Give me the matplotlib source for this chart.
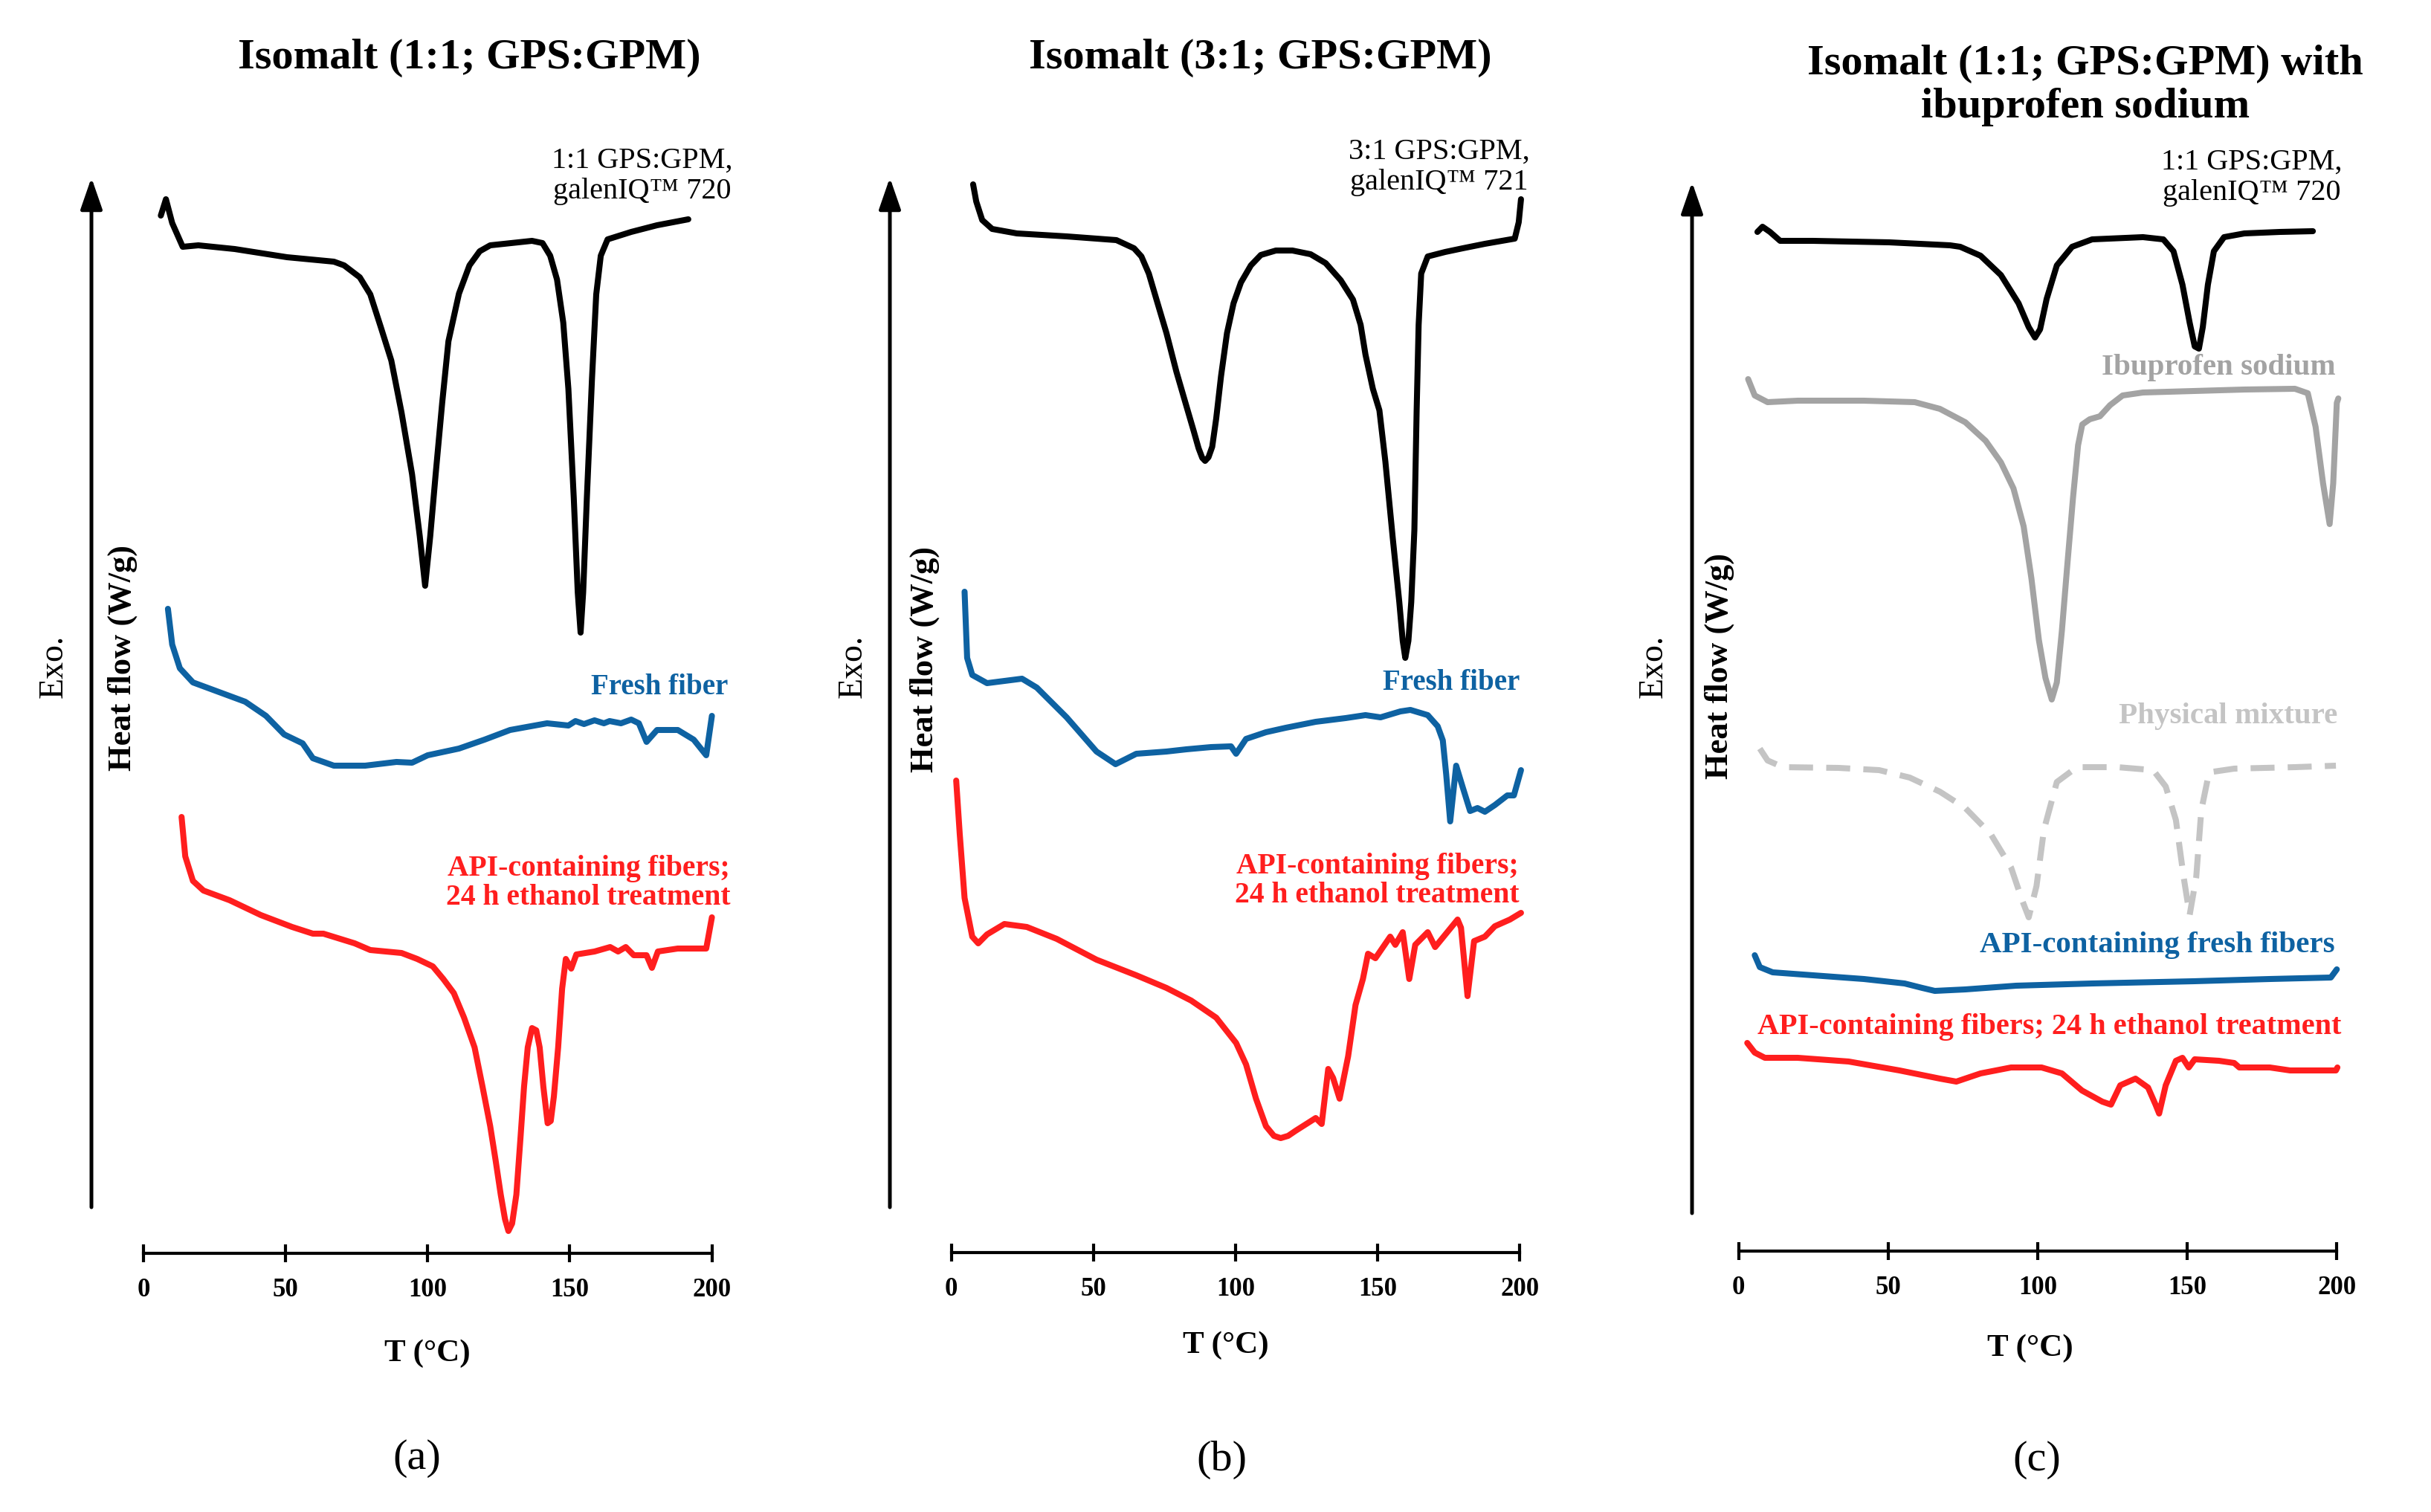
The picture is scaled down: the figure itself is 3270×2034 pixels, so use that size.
import matplotlib
matplotlib.use('Agg')
import matplotlib.pyplot as plt

plt.rcParams['font.family'] = ['Liberation Serif', 'DejaVu Serif']

W, H = 3270, 2034

# ---- data: temperature (°C) and heat flow (a.u., offset per curve) ----
# panel (a): isomalt 1:1
a_gps_t = [6.1, 7.9, 10.1, 13.8, 19.3, 32.1, 50.5, 67, 70.6, 76.1, 79.8, 83.5, 87.2, 90.8, 94.5, 97.2,
           99.1, 100.9, 102.8, 105.1, 107.3, 111, 114.7, 118.3, 122, 136.7, 140.4, 143.1, 145.5,
           147.7, 149.5, 151.4, 152.8, 153.8, 154.7, 156, 157.8, 159.3, 160.9, 163.3, 171.6, 180.7,
           191.7]
a_gps_hf = [13.96, 14.18, 13.86, 13.54, 13.56, 13.51, 13.40, 13.34, 13.29, 13.13, 12.90, 12.46, 12.01,
            11.31, 10.48, 9.65, 8.98, 9.65, 10.48, 11.44, 12.27, 12.91, 13.29, 13.48, 13.56, 13.62,
            13.59, 13.42, 13.10, 12.52, 11.63, 10.16, 8.89, 8.35, 8.89, 10.16, 11.76, 12.90, 13.42,
            13.64, 13.74, 13.83, 13.91]
a_fresh_t = [8.6, 10.1, 12.8, 17.4, 26.6, 35.8, 43.1, 49.5, 56, 59.6, 67, 78, 89, 94.5, 100, 111, 120,
             129, 142, 149.5, 152, 155, 158.7, 162, 164, 168, 171.6, 174.3, 177, 180.7, 188, 193.6,
             198, 200]
a_fresh_hf = [8.67, 8.19, 7.87, 7.68, 7.55, 7.42, 7.23, 6.98, 6.86, 6.66, 6.56, 6.56, 6.61, 6.60, 6.70,
              6.79, 6.91, 7.04, 7.13, 7.10, 7.16, 7.12, 7.17, 7.13, 7.16, 7.13, 7.18, 7.13, 6.88, 7.04,
              7.04, 6.91, 6.70, 7.23]
a_api_t = [13.4, 14.7, 17.4, 21.1, 30.3, 41.3, 52.3, 59.6, 63.3, 74.3, 79.8, 90.8, 96.3, 101.8, 105.5,
           109.2, 112.8, 116.5, 119.3, 122, 123.9, 125.7, 127.2, 128.4, 129.7, 131.2, 132.7, 133.9,
           135.2, 136.7, 138.2, 139.4, 140.7, 142.2, 143.3, 144.4, 145.9, 147.3, 148.6, 150.5, 152.3,
           158.7, 164.2, 167, 169.7, 172.5, 177, 178.9, 181, 188, 198, 200]
a_api_hf = [5.87, 5.34, 5.01, 4.88, 4.75, 4.55, 4.39, 4.30, 4.30, 4.17, 4.08, 4.04, 3.96, 3.86, 3.69,
            3.50, 3.17, 2.77, 2.24, 1.71, 1.25, 0.79, 0.46, 0.30, 0.40, 0.79, 1.58, 2.24, 2.77, 3.03,
            3.00, 2.77, 2.24, 1.75, 1.78, 2.11, 2.77, 3.56, 3.96, 3.83, 4.02, 4.06, 4.12, 4.06, 4.12,
            4.01, 4.01, 3.84, 4.06, 4.10, 4.10, 4.52]

# panel (b): isomalt 3:1
b_gps_t = [7.7, 8.8, 10.9, 14.4, 23.1, 40.6, 58.1, 64.3, 66.9, 69.5, 72.2, 75.7, 79.2, 82.7, 85.3, 87,
           88.3, 89.3, 90.5, 91.8, 93.2, 94.9, 97, 99.3, 101.9, 105.4, 108.9, 114.2, 120, 126.4, 131.7,
           137, 141.3, 144, 145.7, 148.3, 150.6, 152.7, 155.3, 157.6, 158.8, 159.7, 160.8, 161.8,
           162.9, 163.7, 164.4, 165.3, 167.6, 173.7, 179.9, 187.7, 198.2, 199.6, 200.4]
b_gps_hf = [14.37, 14.14, 13.89, 13.77, 13.71, 13.67, 13.62, 13.51, 13.40, 13.17, 12.82, 12.37, 11.85,
            11.39, 11.05, 10.82, 10.69, 10.65, 10.70, 10.84, 11.22, 11.79, 12.37, 12.77, 13.05, 13.28,
            13.42, 13.48, 13.48, 13.43, 13.31, 13.08, 12.82, 12.48, 12.08, 11.62, 11.33, 10.64, 9.61,
            8.75, 8.23, 8.00, 8.23, 8.75, 9.72, 11.33, 12.48, 13.17, 13.40, 13.46, 13.51, 13.57, 13.64,
            13.86, 14.17]
b_fresh_t = [4.7, 5.6, 7.4, 12.6, 24.9, 30.1, 40.6, 51.1, 57.8, 65.1, 75.7, 82.7, 91.4, 98.4, 100.2,
             103.7, 110.7, 117.7, 128.2, 138.7, 145.7, 151, 158, 161.5, 167.6, 171.1, 172.9, 174.1,
             175.5, 177.6, 179.9, 182.5, 185.1, 187.7, 191.2, 195.6, 197.9, 200.4]
b_fresh_hf = [8.89, 8.00, 7.77, 7.66, 7.72, 7.60, 7.20, 6.74, 6.57, 6.71, 6.74, 6.77, 6.80, 6.81, 6.71,
              6.91, 7.00, 7.06, 7.14, 7.19, 7.23, 7.20, 7.28, 7.30, 7.23, 7.08, 6.89, 6.43, 5.80, 6.55,
              6.26, 5.94, 5.98, 5.93, 6.02, 6.15, 6.15, 6.49]
b_api_t = [1.75, 3, 4.7, 7.4, 9.5, 12.6, 18.7, 26.6, 37.1, 51.1, 65.1, 75.7, 84.4, 93.2, 100.2, 103.7,
           107.2, 110.7, 113.5, 115.9, 118.5, 121.2, 128.2, 130.3, 132.6, 134.3, 136.6, 139.6, 142.2,
           144.8, 146.6, 149.2, 154.4, 156.2, 158.8, 161.1, 163.2, 167.6, 170.2, 178.1, 179.3, 181.6,
           183.9, 187.7, 191.2, 196.5, 200.4]
b_api_hf = [6.35, 5.63, 4.77, 4.25, 4.16, 4.28, 4.42, 4.38, 4.22, 3.94, 3.73, 3.56, 3.39, 3.16, 2.82,
            2.53, 2.07, 1.70, 1.57, 1.54, 1.57, 1.64, 1.81, 1.73, 2.47, 2.35, 2.07, 2.64, 3.33, 3.68,
            4.02, 3.96, 4.25, 4.14, 4.31, 3.68, 4.14, 4.31, 4.11, 4.48, 4.37, 3.45, 4.19, 4.25, 4.39,
            4.48, 4.57]

# panel (c): isomalt 1:1 with ibuprofen sodium
c_gps_t = [6.3, 8, 10.5, 13.9, 24.9, 50.4, 70.7, 74.1, 80.9, 87.7, 93.6, 97, 99.1, 100.8, 103, 106.4,
           111.5, 118.2, 135.2, 142, 145.4, 148.4, 150.8, 152.5, 153.9, 155.2, 156.9, 158.9, 162.3,
           169.1, 181, 192]
c_gps_hf = [13.71, 13.78, 13.71, 13.59, 13.59, 13.57, 13.53, 13.51, 13.39, 13.13, 12.75, 12.43, 12.29,
            12.40, 12.81, 13.26, 13.51, 13.61, 13.64, 13.61, 13.45, 13.00, 12.49, 12.17, 12.14, 12.43,
            13.00, 13.45, 13.64, 13.69, 13.71, 13.72]
c_ibu_t = [3.2, 5.4, 9.7, 19.8, 41.9, 58.9, 67.3, 75.8, 82.6, 87.7, 91.9, 95.3, 97.9, 100.4, 102.6,
           104.7, 106.4, 108.1, 109.8, 111.8, 113.5, 114.9, 117.4, 120.8, 124.2, 128.4, 135.2, 152.2,
           169.1, 186, 190.3, 192.9, 195.4, 197.6, 198.8, 200, 200.5]
c_ibu_hf = [11.73, 11.51, 11.42, 11.44, 11.44, 11.42, 11.33, 11.15, 10.90, 10.61, 10.26, 9.75, 9.05,
            8.22, 7.71, 7.42, 7.65, 8.35, 9.18, 10.13, 10.84, 11.12, 11.19, 11.23, 11.38, 11.51, 11.55,
            11.57, 11.59, 11.60, 11.54, 11.09, 10.33, 9.78, 10.33, 11.41, 11.47]
c_mix_t = [7.1, 9.7, 14.8, 33.4, 47, 57.2, 67.3, 75.8, 84.3, 91.1, 94.8, 97, 99.6, 102.1, 106.4, 113.1,
           126.7, 138.6, 142.8, 146.2, 148.8, 150.8, 153, 154.7, 157.3, 165.7, 186.1, 199.7]
c_mix_hf = [6.76, 6.60, 6.51, 6.50, 6.47, 6.37, 6.18, 5.96, 5.61, 5.16, 4.72, 4.49, 4.91, 5.67, 6.31,
            6.51, 6.51, 6.47, 6.25, 5.80, 5.03, 4.52, 5.03, 5.93, 6.44, 6.49, 6.51, 6.53]
c_fresh_t = [5.4, 7.1, 11.4, 24.9, 41.9, 55.5, 61.4, 65.6, 75.8, 92.8, 118.2, 152.2, 177.6, 198, 200]
c_fresh_hf = [3.98, 3.82, 3.75, 3.71, 3.66, 3.60, 3.54, 3.50, 3.52, 3.57, 3.60, 3.63, 3.66, 3.68, 3.79]
c_api_t = [2.9, 5.4, 8.8, 19.8, 36.8, 53.8, 67.3, 72.8, 80.9, 91.1, 101.3, 108.1, 114.8, 121.6, 124.5,
           127.6, 132.7, 136.9, 139.4, 140.6, 142.8, 146.2, 148.4, 150.5, 152.5, 160.6, 165.7, 167.4,
           177.6, 184.4, 199.7, 200.2]
c_api_hf = [2.80, 2.67, 2.60, 2.60, 2.55, 2.43, 2.32, 2.28, 2.39, 2.47, 2.47, 2.39, 2.16, 2.01, 1.97,
            2.23, 2.32, 2.20, 1.97, 1.85, 2.23, 2.56, 2.60, 2.47, 2.58, 2.56, 2.53, 2.47, 2.47, 2.43,
            2.43, 2.47]

x_ticks = [0, 50, 100, 150, 200]

BLACK = '#000000'
BLUE = '#0e62a2'
RED = '#ff1e1e'
GREY = '#a3a3a3'
LGREY = '#c4c4c4'
LW = 5.8


def fx(px):
    return px / W


def fy(py):
    return 1 - py / H


fig = plt.figure(figsize=(W / 100, H / 100), dpi=100)


def make_panel(t0, t200, axis_y, top=150):
    ax = fig.add_axes([fx(t0), fy(axis_y), fx(t200 - t0), (axis_y - top) / H])
    ax.set_xlim(0, 200)
    ax.set_ylim(0, (axis_y - top) / 100)
    for s in ['top', 'right', 'left']:
        ax.spines[s].set_visible(False)
    ax.spines['bottom'].set_linewidth(3)
    ax.spines['bottom'].set_bounds(0, 200)
    ax.set_yticks([])
    ax.set_xticks(x_ticks)
    ax.set_xticklabels([str(t) for t in x_ticks])
    ax.tick_params(axis='x', direction='inout', length=17, width=3, pad=15,
                   labelsize=25)
    for lab in ax.get_xticklabels():
        lab.set_fontweight('bold')
    ax.patch.set_visible(False)
    return ax


def curve(ax, t, hf, color, **kw):
    ax.plot(t, hf, color=color, lw=LW, solid_joinstyle='round', solid_capstyle='round',
            clip_on=False, **kw)


def arrow(x, y_tip, y_bot):
    fig.add_artist(matplotlib.patches.FancyArrowPatch(
        (fx(x), fy(y_bot)), (fx(x), fy(y_tip)), transform=fig.transFigure,
        arrowstyle='-|>,head_length=1.3,head_width=0.45', mutation_scale=20,
        lw=3.6, color='black', shrinkA=0, shrinkB=0))


def label(x, y, s, color='black', size=28, weight='bold', ha='center', rot=0, **kw):
    fig.text(fx(x), fy(y), s, color=color, fontsize=size, fontweight=weight, ha=ha,
             va='center', rotation=rot, **kw)


# ---- panel (a) ----
ax_a = make_panel(193, 957.6, 1686)
curve(ax_a, a_gps_t, a_gps_hf, BLACK)
curve(ax_a, a_fresh_t, a_fresh_hf, BLUE)
curve(ax_a, a_api_t, a_api_hf, RED)
arrow(123, 239, 1624)
label(631, 78, 'Isomalt (1:1; GPS:GPM)', size=42)
label(864, 237, '1:1 GPS:GPM,\ngalenIQ™ 720', weight='normal', size=29,
      multialignment='center', linespacing=1.15)
label(979, 925, 'Fresh fiber', color=BLUE, ha='right', size=28)
label(982, 1188, 'API-containing fibers;\n24 h ethanol treatment', color=RED, ha='right',
      size=28.5, multialignment='right', linespacing=1.1)
label(72, 896, 'Exo.', weight='normal', size=33, rot=90)
label(165, 885, 'Heat flow (W/g)', size=32, rot=90)
label(575, 1821, 'T (°C)', size=31)
label(561, 1962, '(a)', weight='normal', size=42)

# ---- panel (b) ----
ax_b = make_panel(1279.5, 2044.4, 1685)
curve(ax_b, b_gps_t, b_gps_hf, BLACK)
curve(ax_b, b_fresh_t, b_fresh_hf, BLUE)
curve(ax_b, b_api_t, b_api_hf, RED)
arrow(1197, 239, 1624)
label(1695, 78, 'Isomalt (3:1; GPS:GPM)', size=42)
label(1936, 225, '3:1 GPS:GPM,\ngalenIQ™ 721', weight='normal', size=29,
      multialignment='center', linespacing=1.15)
label(2044, 919, 'Fresh fiber', color=BLUE, ha='right', size=28)
label(2043, 1185, 'API-containing fibers;\n24 h ethanol treatment', color=RED, ha='right',
      size=28.5, multialignment='right', linespacing=1.1)
label(1147, 896, 'Exo.', weight='normal', size=33, rot=90)
label(1244, 887, 'Heat flow (W/g)', size=32, rot=90)
label(1649, 1810, 'T (°C)', size=31)
label(1643, 1964, '(b)', weight='normal', size=42)

# ---- panel (c) ----
ax_c = make_panel(2338.6, 3143.3, 1683)
curve(ax_c, c_gps_t, c_gps_hf, BLACK)
curve(ax_c, c_ibu_t, c_ibu_hf, GREY)
ax_c.plot(c_mix_t, c_mix_hf, color=LGREY, lw=LW, dashes=(4.0, 2.2), clip_on=False)
curve(ax_c, c_fresh_t, c_fresh_hf, BLUE)
curve(ax_c, c_api_t, c_api_hf, RED)
arrow(2276, 245, 1632)
label(2805, 115, 'Isomalt (1:1; GPS:GPM) with\nibuprofen sodium', size=42,
      multialignment='center', linespacing=1.15)
label(3029, 239, '1:1 GPS:GPM,\ngalenIQ™ 720', weight='normal', size=29,
      multialignment='center', linespacing=1.15)
label(3142, 494, 'Ibuprofen sodium', color=GREY, ha='right', size=29.5)
label(3144, 963, 'Physical mixture', color=LGREY, ha='right', size=29.5)
label(3141, 1272, 'API-containing fresh fibers', color=BLUE, ha='right', size=29.5)
label(3149, 1382, 'API-containing fibers; 24 h ethanol treatment', color=RED, ha='right',
      size=29)
label(2224, 896, 'Exo.', weight='normal', size=33, rot=90)
label(2313, 896, 'Heat flow (W/g)', size=32, rot=90)
label(2731, 1814, 'T (°C)', size=31)
label(2740, 1964, '(c)', weight='normal', size=42)

fig.savefig('out.png', dpi=100)
